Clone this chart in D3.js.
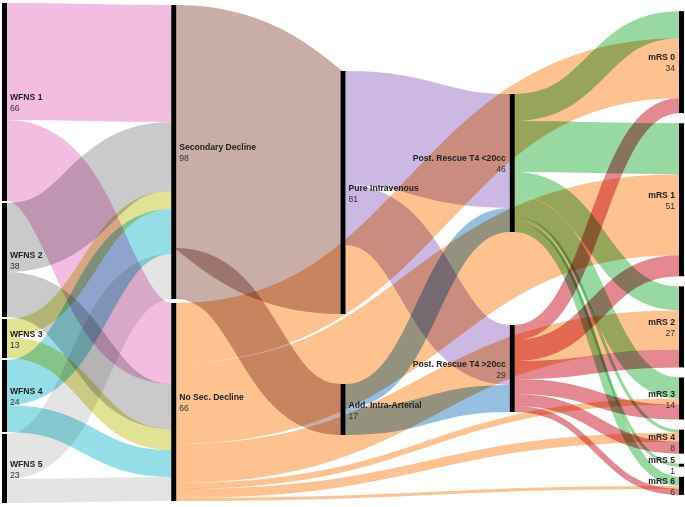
<!DOCTYPE html>
<html>
<head>
<meta charset="utf-8">
<script src="https://cdn.jsdelivr.net/npm/d3@7"></script>
<style>
  body { margin: 0; background: #fff; }
  svg { display: block; }
</style>
</head>
<body>
<div id="chart"></div>
<script>
// nodes, in column order (top to bottom)
const wfnsNodes = ["WFNS 1", "WFNS 2", "WFNS 3", "WFNS 4", "WFNS 5"]
const declineNodes = ["Secondary Decline", "No Sec. Decline"]
const therapyNodes = ["Pure Intravenous", "Add. Intra-Arterial"]
const rescueNodes = ["Post. Rescue T4 <20cc", "Post. Rescue T4 >20cc"]
const mrsNodes = ["mRS 0", "mRS 1", "mRS 2", "mRS 3", "mRS 4", "mRS 5", "mRS 6"]

// flows: [source, target, patients]
const wfnsToDecline = [
  ["WFNS 1", "Secondary Decline", 39], ["WFNS 1", "No Sec. Decline", 27],
  ["WFNS 2", "Secondary Decline", 23], ["WFNS 2", "No Sec. Decline", 15],
  ["WFNS 3", "Secondary Decline", 6],  ["WFNS 3", "No Sec. Decline", 7],
  ["WFNS 4", "Secondary Decline", 15], ["WFNS 4", "No Sec. Decline", 9],
  ["WFNS 5", "Secondary Decline", 15], ["WFNS 5", "No Sec. Decline", 8],
]
const declineToTherapy = [
  ["Secondary Decline", "Pure Intravenous", 81],
  ["Secondary Decline", "Add. Intra-Arterial", 17],
]
const therapyToRescue = [
  ["Pure Intravenous", "Post. Rescue T4 <20cc", 38],
  ["Pure Intravenous", "Post. Rescue T4 >20cc", 20],
  ["Add. Intra-Arterial", "Post. Rescue T4 <20cc", 8],
  ["Add. Intra-Arterial", "Post. Rescue T4 >20cc", 9],
]
// outcome per source, in mRS 0..6 order
const smallOutcome = [9, 17, 8, 7, 1, 1, 3]   // from Post. Rescue T4 <20cc
const noDeclineOutcome = [20, 27, 13, 2, 3, 0, 1]  // from No Sec. Decline
const largeOutcome = [5, 7, 6, 5, 4, 0, 2]    // from Post. Rescue T4 >20cc

const palette = [
  "#f2b6de", "#c6c6c6", "#dfe08c", "#8cdbe6", "#e2e2e2",
  "#c4a6a0", "#fdbd86",
  "#c8b2e0", "#8cbadd",
  "#8fd69a", "#e27e88",
  "#000", "#000", "#000", "#000", "#000", "#000", "#000",
]

const width = 685, height = 507
const extent = {x0: 2, y0: 3, x1: 684, y1: 503}
const nodeWidth = 5, nodePadding = 2

// ---- build graph
const names = [...wfnsNodes, ...declineNodes, ...therapyNodes, ...rescueNodes, ...mrsNodes]
const nodes = names.map((name, i) => ({name, index: i, color: palette[i], sourceLinks: [], targetLinks: []}))
const byName = new Map(nodes.map(d => [d.name, d]))

const outcomeLinks = (src, values) => values.map((v, i) => [src, mrsNodes[i], v]).filter(d => d[2] > 0)
const rawLinks = [
  ...wfnsToDecline,
  ...declineToTherapy,
  ...therapyToRescue,
  ...outcomeLinks("No Sec. Decline", noDeclineOutcome),
  ...outcomeLinks("Post. Rescue T4 <20cc", smallOutcome),
  ...outcomeLinks("Post. Rescue T4 >20cc", largeOutcome),
]
const links = rawLinks.map(([s, t, value]) => ({source: byName.get(s), target: byName.get(t), value}))
links.forEach(l => {
  l.source.sourceLinks.push(l)
  l.target.targetLinks.push(l)
})
nodes.forEach(n => {
  n.value = Math.max(d3.sum(n.sourceLinks, l => l.value), d3.sum(n.targetLinks, l => l.value))
})

// depth by breadth-first walk, sinks pushed to the last column
let current = new Set(nodes.filter(n => !n.targetLinks.length)), depth = 0
while (current.size) {
  const next = new Set()
  for (const n of current) {
    n.depth = depth
    n.sourceLinks.forEach(l => next.add(l.target))
  }
  current = next
  depth++
}
const nLayers = d3.max(nodes, n => n.depth) + 1
nodes.forEach(n => n.layer = n.sourceLinks.length ? n.depth : nLayers - 1)

const columns = d3.range(nLayers).map(i => nodes.filter(n => n.layer === i))

const x = d3.scaleLinear()
  .domain([0, nLayers - 1])
  .range([extent.x0, extent.x1 - nodeWidth])

const ky = d3.min(columns, c => (extent.y1 - extent.y0 - (c.length - 1) * nodePadding) / d3.sum(c, n => n.value))
const y = d3.scaleLinear().domain([0, 1]).range([0, ky])

// stack each column, then share the leftover space evenly around its nodes
for (const col of columns) {
  let pos = extent.y0
  for (const n of col) {
    n.x0 = x(n.layer)
    n.x1 = n.x0 + nodeWidth
    n.y0 = pos
    n.y1 = pos + y(n.value)
    pos = n.y1 + nodePadding
  }
  const spare = (extent.y1 - pos + nodePadding) / (col.length + 1)
  col.forEach((n, i) => {
    n.y0 += spare * (i + 1)
    n.y1 += spare * (i + 1)
  })
}

// order links at each node, then place them
nodes.forEach(n => {
  n.sourceLinks.sort((a, b) => a.target.y0 - b.target.y0)
  n.targetLinks.sort((a, b) => a.source.y0 - b.source.y0)
})
nodes.forEach(n => {
  let s = n.y0, t = n.y0
  for (const l of n.sourceLinks) {
    l.width = y(l.value)
    l.y0 = s + l.width / 2
    s += l.width
  }
  for (const l of n.targetLinks) {
    l.width = y(l.value)
    l.y1 = t + l.width / 2
    t += l.width
  }
})

// ---- draw
const svg = d3.select("#chart").append("svg")
  .attr("width", width)
  .attr("height", height)

const linkPath = d3.linkHorizontal()
  .source(d => [d.source.x1, d.y0])
  .target(d => [d.target.x0, d.y1])

svg.append("g")
  .attr("fill", "none")
  .selectAll("path")
  .data(links)
  .join("path")
    .attr("d", linkPath)
    .attr("stroke", d => d.source.color)
    .attr("stroke-width", d => Math.max(1, d.width))
    .attr("stroke-opacity", 0.92)
    .style("mix-blend-mode", "multiply")

svg.append("g")
  .selectAll("rect")
  .data(nodes)
  .join("rect")
    .attr("x", d => d.x0)
    .attr("y", d => d.y0)
    .attr("width", nodeWidth)
    .attr("height", d => Math.max(1, d.y1 - d.y0))
    .attr("fill", "#000")

const labels = svg.append("g")
  .attr("font-family", "'Liberation Sans', Arial, sans-serif")
  .attr("font-size", 8.6)
  .selectAll("g")
  .data(nodes)
  .join("g")
    .attr("transform", d => {
      const right = d.layer >= nLayers - 2
      return `translate(${right ? d.x0 - 4 : d.x1 + 3},${(d.y0 + d.y1) / 2})`
    })
    .attr("text-anchor", d => d.layer >= nLayers - 2 ? "end" : "start")

labels.append("text")
  .attr("y", -2)
  .attr("font-weight", "bold")
  .attr("fill", "#222")
  .text(d => d.name)

labels.append("text")
  .attr("y", 9)
  .attr("fill", "#333")
  .text(d => d.value)
</script>
</body>
</html>
